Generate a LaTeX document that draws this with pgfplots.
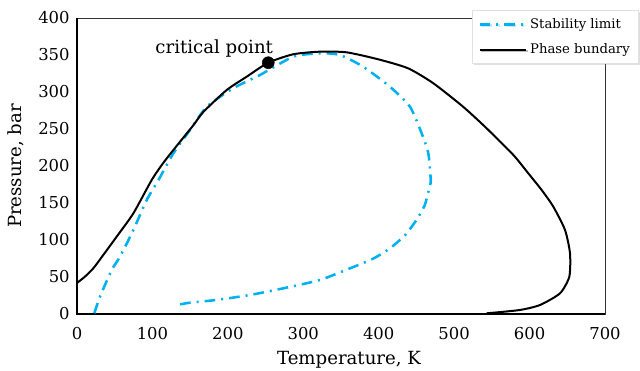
\documentclass[border=0pt]{standalone}
\usepackage{fontspec}
\setmainfont{DejaVu Serif}
\usepackage{pgfplots}
\pgfplotsset{compat=1.18}
\usetikzlibrary{shadows}
\definecolor{stab}{RGB}{0,176,240}
\begin{document}
\begin{tikzpicture}
\useasboundingbox (0,0) rectangle (480pt,278.25pt);
\begin{axis}[
  at={(57.75pt,42.75pt)}, anchor=south west,
  scale only axis, width=396pt, height=222pt,
  xmin=0, xmax=700, ymin=0, ymax=400,
  xtick={0,100,...,700}, ytick={0,50,...,400},
  major tick length=0pt,
  axis line style={line width=0.6pt, black!80},
  /pgf/number format/assume math mode=true,
  tick label style={font=\fontsize{12.3}{14}\selectfont},
  xticklabel style={yshift=-6.5pt},
  yticklabel style={xshift=-2pt},
  xlabel={Temperature, K}, ylabel={Pressure, bar},
  label style={font=\fontsize{13.6}{16}\selectfont},
  xlabel style={at={(ticklabel cs:0.5)}, anchor=north, yshift=-1.5pt, xshift=6pt},
  ylabel style={yshift=4pt},
  clip=false,
  legend style={at={(0.748,1.027)}, anchor=north west,
    draw=black!12, fill=white, line width=0.6pt,
    drop shadow={shadow xshift=1pt, shadow yshift=-1pt, opacity=0.25},
    font=\fontsize{9.9}{11}\selectfont,
    inner xsep=4.5pt, inner ysep=4pt, row sep=6pt},
  legend cell align=left,
  legend image code/.code={\draw[#1] (0pt,0pt) -- (35pt,0pt);},
]
\draw[line width=1.5pt, black] (rel axis cs:0,1) -- (rel axis cs:0,0) -- (rel axis cs:1,0);
\addplot[stab, line width=1.9pt, dash pattern=on 8pt off 4.5pt on 1.5pt off 4.5pt, smooth, tension=0.4] coordinates {
(23,1) (30.5,23.4) (46,59.5) (57,77.5) (74.7,113.5) (92.4,154) (108,181) (127.7,217) (149.8,248.6) (172,280) (207,305) (242.6,323) (286.8,347.7) (322,352.3) (348.7,350) (379.6,334) (415,307) (441.5,280) (457,244) (465.8,217) (469,181) (468,174) (461,147) (450,127) (435,106.7) (415,88.8) (393,75) (362,61.7) (322,46) (273.5,34.7) (229.4,25.7) (185,19) (149.8,15.3) (130,11.7)
};
\addlegendentry{Stability limit}
\addplot[black, line width=1.5pt, smooth, tension=0.4] coordinates {
(0,42) (10,50) (21.6,61.7) (35,80) (52.6,104.5) (74.7,136) (99,181) (115,205) (136.6,232.8) (154.2,255) (167.5,273) (198.5,302.7) (225,320.7) (253.6,339.6) (286.8,351) (322,354.5) (357.5,353.6) (400,344) (439,332) (472.4,311.8) (512,280) (543,251) (578.5,214.9) (598.4,190) (616,167.6) (631.5,145) (647,113.5) (653.6,82) (652.7,50.4) (640.4,28) (613.9,12.2) (587,5.4) (543,0.9)
};
\addlegendentry{Phase bundary}
\addplot[black, only marks, mark=*, mark size=4.5pt, forget plot] coordinates {(253.6,339.6)}
  node[pos=0, anchor=base east, inner sep=0pt, xshift=3.75pt, yshift=7pt, font=\fontsize{13.6}{16}\selectfont] {critical point};
\end{axis}
\end{tikzpicture}
\end{document}
